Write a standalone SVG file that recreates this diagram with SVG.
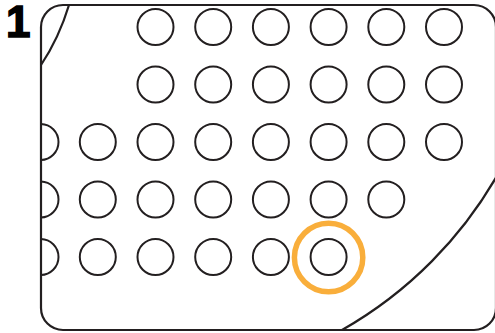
<svg xmlns="http://www.w3.org/2000/svg" width="495" height="333" viewBox="0 0 495 333">
<style>
.c{fill:none;stroke:#231f20;stroke-width:2}
.l{fill:none;stroke:#231f20;stroke-width:2.2}
</style>
<rect width="495" height="333" fill="#ffffff"/>
<text x="6" y="37" font-family="Liberation Sans, Arial, sans-serif" font-weight="bold" font-size="44" fill="#000" stroke="#000" stroke-width="1.5">1</text>
<g id="outline">
<rect class="l" x="41" y="5" width="455" height="325" rx="22"/>
<path class="l" d="M41,65 Q59,38 69,5"/>
<path class="l" d="M342,330 A416,416 0 0 0 500,170.5"/>
</g>
<defs><clipPath id="cp"><rect x="41" y="5" width="455" height="325" rx="22"/></clipPath></defs>
<g id="holes" clip-path="url(#cp)">
<circle class="c" cx="155.5" cy="27" r="18"/><circle class="c" cx="213.2" cy="27" r="18"/><circle class="c" cx="270.9" cy="27" r="18"/><circle class="c" cx="328.6" cy="27" r="18"/><circle class="c" cx="386.3" cy="27" r="18"/><circle class="c" cx="444" cy="27" r="18"/>
<circle class="c" cx="155.5" cy="84.5" r="18"/><circle class="c" cx="213.2" cy="84.5" r="18"/><circle class="c" cx="270.9" cy="84.5" r="18"/><circle class="c" cx="328.6" cy="84.5" r="18"/><circle class="c" cx="386.3" cy="84.5" r="18"/><circle class="c" cx="444" cy="84.5" r="18"/>
<circle class="c" cx="40.5" cy="142" r="18"/><circle class="c" cx="97.8" cy="142" r="18"/><circle class="c" cx="155.5" cy="142" r="18"/><circle class="c" cx="213.2" cy="142" r="18"/><circle class="c" cx="270.9" cy="142" r="18"/><circle class="c" cx="328.6" cy="142" r="18"/><circle class="c" cx="386.3" cy="142" r="18"/><circle class="c" cx="444" cy="142" r="18"/>
<circle class="c" cx="40.5" cy="199.5" r="18"/><circle class="c" cx="97.8" cy="199.5" r="18"/><circle class="c" cx="155.5" cy="199.5" r="18"/><circle class="c" cx="213.2" cy="199.5" r="18"/><circle class="c" cx="270.9" cy="199.5" r="18"/><circle class="c" cx="328.6" cy="199.5" r="18"/><circle class="c" cx="386.3" cy="199.5" r="18"/>
<circle class="c" cx="40.5" cy="257" r="18"/><circle class="c" cx="97.8" cy="257" r="18"/><circle class="c" cx="155.5" cy="257" r="18"/><circle class="c" cx="213.2" cy="257" r="18"/><circle class="c" cx="270.9" cy="257" r="18"/><circle class="c" cx="328.6" cy="257" r="18"/>
</g>
<g id="highlight">
<circle cx="328.6" cy="257.5" r="34.2" fill="none" stroke="#f9ae3b" stroke-width="5.5"/>
</g>
</svg>
